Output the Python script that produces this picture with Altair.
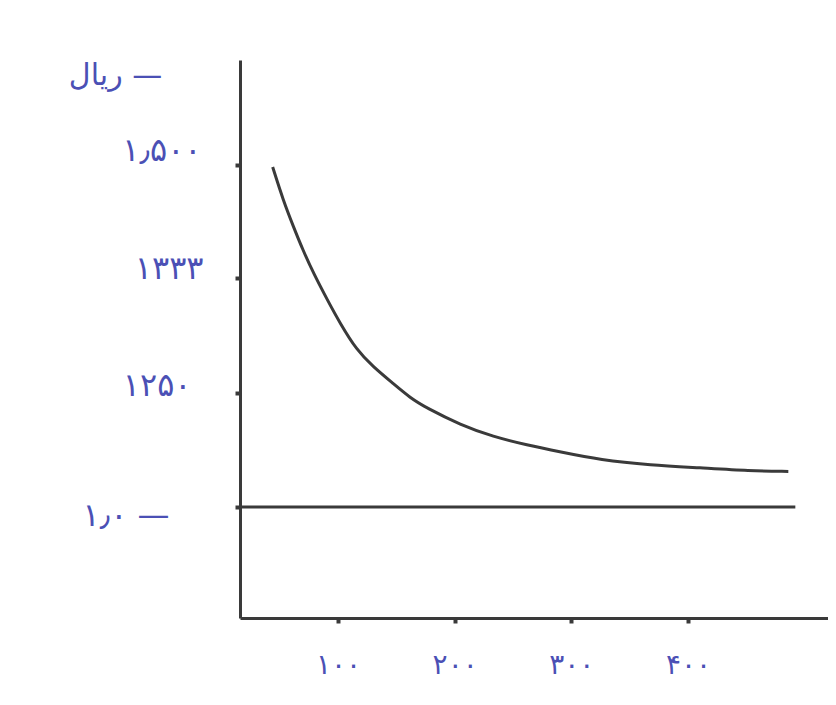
import altair as alt
import pandas as pd

# curve (hand-drawn average-cost style curve)
curve_q = [44, 53, 62, 70, 79, 91, 102, 116, 130, 147, 162, 176, 205, 233, 262, 290,
           325, 368, 410, 453, 486]
curve_cost = [1.497, 1.448, 1.408, 1.374, 1.340, 1.317, 1.300, 1.281, 1.269, 1.257,
              1.239, 1.217, 1.180, 1.154, 1.136, 1.121, 1.103, 1.092, 1.086, 1.079, 1.078]

# horizontal floor line at 1.0
floor_q = [16, 492]
floor_cost = [1.0, 1.0]

# tick values and their (Persian) labels
x_ticks = [100, 200, 300, 400]
x_labels = ["۱۰۰", "۲۰۰", "۳۰۰", "۴۰۰"]
y_ticks = [1.0, 1.25, 1.333, 1.5]
y_labels = ["۱٫۰ —", "۱۲۵۰", "۱۳۳۳", "۱٫۵۰۰"]
y_title = "ریال —"

# hand-drawn (non-uniform) vertical spacing of the sketch
y_domain = [0.75, 1.0, 1.25, 1.333, 1.5, 1.65]
y_range = [558, 447, 333, 218, 105, 0]

# small hand-placement offsets of the y labels (styling only)
y_label_pad = [66, 44, 32, 34]
y_label_off = [8, -8, -10, -15]

INK = "#3a3a3a"
PEN = "#4b50b5"
FONT = "DejaVu Sans"


def pick_expr(values, outs, default="''"):
    expr = default
    for v, o in reversed(list(zip(values, outs))):
        expr = f"abs(datum.value - {v}) < 0.001 ? {o} : ({expr})"
    return expr


def cond(values, outs, default):
    return {
        "condition": [
            {"test": f"abs(datum.value - {v}) < 0.001", "value": o}
            for v, o in zip(values, outs)
        ],
        "value": default,
    }


curve_df = pd.DataFrame({"q": curve_q, "cost": curve_cost})
floor_df = pd.DataFrame({"q": floor_q, "cost": floor_cost})

x_enc = alt.X(
    "q:Q",
    scale=alt.Scale(domain=[16, 520], nice=False, zero=False),
    axis=alt.Axis(
        values=x_ticks,
        labelExpr=pick_expr(x_ticks, [f"'{l}'" for l in x_labels]),
        title=None,
        grid=False,
        domainColor=INK,
        domainWidth=3,
        tickColor=INK,
        tickWidth=4,
        tickSize=5,
        labelColor=PEN,
        labelFont=FONT,
        labelFontSize=28,
        labelPadding=28,
    ),
)

y_enc = alt.Y(
    "cost:Q",
    scale=alt.Scale(domain=y_domain, range=y_range, nice=False, zero=False),
    axis=alt.Axis(
        values=y_ticks,
        labelExpr=pick_expr(y_ticks, [f"'{l}'" for l in y_labels]),
        title=y_title,
        titleAngle=0,
        titleX=-125,
        titleY=15,
        titleAlign="center",
        titleBaseline="middle",
        titleColor=PEN,
        titleFont=FONT,
        titleFontSize=30,
        titleFontWeight="normal",
        grid=False,
        domainColor=INK,
        domainWidth=3,
        tickColor=INK,
        tickWidth=4,
        tickSize=5,
        labelColor=PEN,
        labelFont=FONT,
        labelFontSize=32,
        labelBaseline="middle",
        labelPadding=cond(y_ticks, y_label_pad, 36),
        labelOffset=cond(y_ticks, y_label_off, 0),
    ),
)

curve = alt.Chart(curve_df).mark_line(
    color=INK, strokeWidth=3, interpolate="basis"
).encode(x=x_enc, y=y_enc)

floor = alt.Chart(floor_df).mark_line(color=INK, strokeWidth=3).encode(
    x="q:Q", y="cost:Q"
)

chart = (
    alt.layer(floor, curve)
    .properties(
        width=588,
        height=558,
        padding={"left": 232, "top": 52, "right": 0, "bottom": 80},
        autosize=alt.AutoSizeParams(type="none"),
        background="white",
    )
    .configure_view(stroke=None)
)

chart.save("out.html", embed_options={"renderer": "svg", "actions": False})
